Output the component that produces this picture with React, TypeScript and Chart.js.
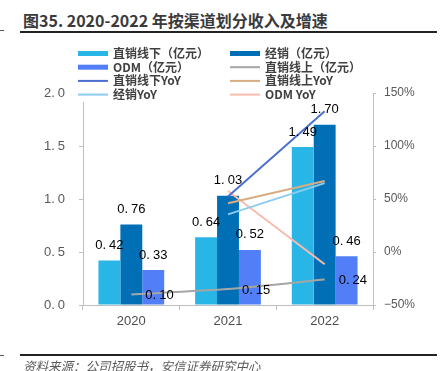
import React, { useEffect, useRef } from "react";
import { Chart, registerables } from "chart.js";

Chart.register(...registerables);

const categories = ["2020", "2021", "2022"];
const offlineDirect = [0.42, 0.64, 1.49];
const distribution = [0.76, 1.03, 1.7];
const odm = [0.33, 0.52, 0.46];
const onlineDirect = [0.1, 0.15, 0.24];
const offlineDirectYoY = [null, 52.4, 132.8];
const onlineDirectYoY = [null, 46, 67];
const distributionYoY = [null, 35.5, 65];
const odmYoY = [null, 57.6, -11.5];
const leftTicks = [0, 0.5, 1.0, 1.5, 2.0];
const rightTicks = [-50, 0, 50, 100, 150];

const C_LIGHT = "#29b6e6";
const C_DARK = "#006fb6";
const C_ODM = "#527ff7";
const C_GRAY = "#a6a6a6";
const C_OFFYOY = "#4a6fce";
const C_ONYOY = "#d8ad7f";
const C_DISYOY = "#8dcbf0";
const C_ODMYOY = "#f7bcae";

const legendItems = [
  { text: "直销线下（亿元）", color: C_LIGHT, bar: true },
  { text: "经销（亿元）", color: C_DARK, bar: true },
  { text: "ODM（亿元）", color: C_ODM, bar: true },
  { text: "直销线上（亿元）", color: C_GRAY, bar: false },
  { text: "直销线下YoY", color: C_OFFYOY, bar: false },
  { text: "直销线上YoY", color: C_ONYOY, bar: false },
  { text: "经销YoY", color: C_DISYOY, bar: false },
  { text: "ODM YoY", color: C_ODMYOY, bar: false },
];

const NUM_FONT = "13px 'Liberation Sans', Arial, sans-serif";

function drawNum(ctx: any, str: string, x: number, y: number, align: string) {
  const parts = str.split(".");
  const a = parts[0] + ".";
  const b = parts[1] || "";
  const gap = 3;
  const w1 = ctx.measureText(a).width;
  const w2 = ctx.measureText(b).width;
  const total = w1 + gap + w2;
  let sx = x;
  if (align === "center") sx = x - total / 2;
  else if (align === "right") sx = x - total;
  ctx.textAlign = "left";
  ctx.fillText(a, sx, y);
  ctx.fillText(b, sx + w1 + gap, y);
}

const labelPlugin = {
  id: "labels",
  afterDatasetsDraw(chart: any) {
    const ctx = chart.ctx;
    ctx.save();
    ctx.font = NUM_FONT;
    ctx.fillStyle = "#000";
    ctx.textBaseline = "middle";
    chart.data.datasets.forEach((ds: any, i: number) => {
      const meta = chart.getDatasetMeta(i);
      if (ds.type === "bar") {
        meta.data.forEach((el: any, j: number) => {
          drawNum(ctx, ds.data[j].toFixed(2), el.x, el.y - 15, "center");
        });
      } else if (ds.labelRight) {
        meta.data.forEach((el: any, j: number) => {
          drawNum(ctx, ds.data[j].toFixed(2), el.x + 14, el.y + 1, "left");
        });
      }
    });
    // left axis tick labels
    const ys = chart.scales.y;
    ctx.fillStyle = "#595959";
    leftTicks.forEach((v) => {
      drawNum(ctx, v.toFixed(1), ys.left + ys.width - 18, ys.getPixelForValue(v), "right");
    });
    ctx.restore();
  },
  afterDraw(chart: any) {
    const ctx = chart.ctx;
    ctx.save();
    ctx.fillStyle = "#fff";
    ctx.fillRect(70, 44, 296, 58);
    ctx.font = "bold 12px 'Noto Sans CJK SC', sans-serif";
    ctx.textBaseline = "middle";
    ctx.textAlign = "left";
    legendItems.forEach((it, k) => {
      const col = k % 2;
      const row = Math.floor(k / 2);
      const x = col === 0 ? 78 : 230;
      const y = 53.5 + row * 13.7;
      ctx.fillStyle = it.color;
      if (it.bar) ctx.fillRect(x, y - 2.5, 30, 5);
      else ctx.fillRect(x, y - 1, 30, 2);
      ctx.fillStyle = "#404040";
      ctx.fillText(it.text, x + 35, y);
    });
    ctx.restore();
  },
};

export default function App() {
  const ref = useRef<HTMLCanvasElement>(null);
  useEffect(() => {
    document.body.style.margin = "0";
    const lineDs = (label: string, data: any[], color: string, axis: string, extra: any = {}) => ({
      type: "line",
      label,
      data,
      borderColor: color,
      backgroundColor: color,
      borderWidth: 2,
      pointRadius: 0,
      yAxisID: axis,
      order: 0,
      ...extra,
    });
    const barDs = (label: string, data: number[], color: string) => ({
      type: "bar",
      label,
      data,
      backgroundColor: color,
      yAxisID: "y",
      order: 1,
      barPercentage: 1,
      categoryPercentage: 0.68,
    });
    const chart = new Chart(ref.current as HTMLCanvasElement, {
      type: "bar",
      data: {
        labels: categories,
        datasets: [
          barDs("直销线下（亿元）", offlineDirect, C_LIGHT),
          barDs("经销（亿元）", distribution, C_DARK),
          barDs("ODM（亿元）", odm, C_ODM),
          lineDs("直销线上（亿元）", onlineDirect, C_GRAY, "y", { labelRight: true, tension: 0.2 }),
          lineDs("直销线下YoY", offlineDirectYoY, C_OFFYOY, "y1"),
          lineDs("直销线上YoY", onlineDirectYoY, C_ONYOY, "y1"),
          lineDs("经销YoY", distributionYoY, C_DISYOY, "y1"),
          lineDs("ODM YoY", odmYoY, C_ODMYOY, "y1"),
        ] as any,
      },
      options: {
        animation: false,
        responsive: false,
        layout: { padding: { top: 93, left: 0, right: 0, bottom: 0 } },
        plugins: { legend: { display: false }, tooltip: { enabled: false } },
        scales: {
          x: {
            offset: true,
            grid: { offset: true, drawOnChartArea: false, color: "#bfbfbf", tickLength: 5 },
            border: { color: "#bfbfbf" },
            ticks: { color: "#4d4d4d", font: { family: "'Liberation Sans', Arial", size: 13 }, padding: 4 },
            afterFit: (s: any) => { s.height = 66; },
          },
          y: {
            position: "left",
            min: 0,
            max: 2,
            afterBuildTicks: (s: any) => { s.ticks = leftTicks.map((v) => ({ value: v })); },
            grid: { drawOnChartArea: false, color: "#bfbfbf", tickLength: 4 },
            border: { color: "#bfbfbf" },
            ticks: { display: false },
            afterFit: (s: any) => { s.width = 83; },
          },
          y1: {
            position: "right",
            min: -50,
            max: 150,
            afterBuildTicks: (s: any) => { s.ticks = rightTicks.map((v) => ({ value: v })); },
            grid: { drawOnChartArea: false, color: "#bfbfbf", tickLength: 3 },
            border: { color: "#bfbfbf" },
            ticks: {
              color: "#595959",
              font: { family: "'Liberation Sans', Arial", size: 12 },
              padding: 8,
              callback: (v: any) => (v < 0 ? "\u2212" + Math.abs(v) : v) + "%",
            },
            afterFit: (s: any) => { s.width = 68; },
          },
        },
      },
      plugins: [labelPlugin],
    } as any);
    return () => chart.destroy();
  }, []);

  return (
    <div style={{ position: "relative", width: 441, height: 371, background: "#fff", overflow: "hidden" }}>
      <div style={{ position: "absolute", left: 0, top: 30, width: 4, height: 1, background: "#555" }} />
      <div
        style={{
          position: "absolute",
          left: 23,
          top: 9,
          fontFamily: "'Noto Sans CJK SC', sans-serif",
          fontWeight: "bold",
          fontSize: 16,
          lineHeight: "22px",
          color: "#3a3a3a",
          whiteSpace: "nowrap",
        }}
      >
        图35. 2020-2022 年按渠道划分收入及增速
      </div>
      <div style={{ position: "absolute", left: 20, top: 31, width: 417, height: 2, background: "#222" }} />
      <canvas ref={ref} width={441} height={371} style={{ position: "absolute", left: 0, top: 0 }} />
      <div style={{ position: "absolute", left: 0, top: 355, width: 4, height: 1, background: "#555" }} />
      <div style={{ position: "absolute", left: 20, top: 354, width: 417, height: 1.5, background: "#222" }} />
      <div
        style={{
          position: "absolute",
          left: 23,
          top: 358,
          fontFamily: "'Noto Sans CJK SC', sans-serif",
          fontStyle: "italic",
          fontSize: 12.5,
          lineHeight: "16px",
          color: "#595959",
          whiteSpace: "nowrap",
        }}
      >
        资料来源：公司招股书，安信证券研究中心
      </div>
    </div>
  );
}
